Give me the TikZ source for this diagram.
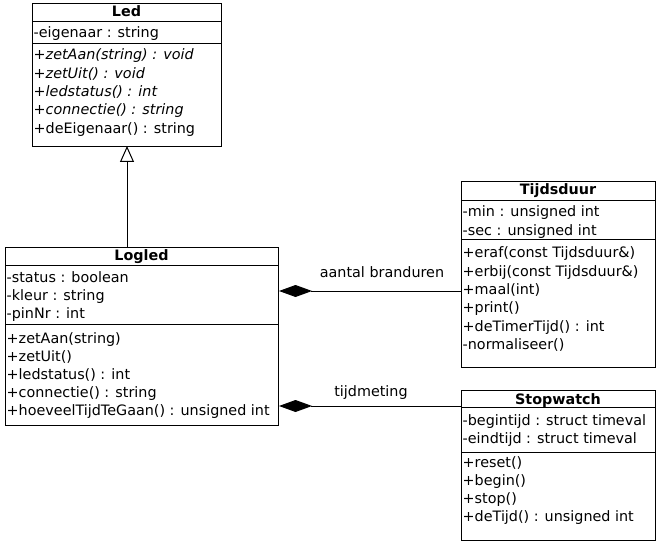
\documentclass[tikz,border=0pt]{standalone}
\usepackage{fontspec}
\setmainfont{DejaVu Sans}
\usetikzlibrary{arrows.meta}
\begin{document}
\begin{tikzpicture}[x=1bp,y=-1bp,
  box/.style={draw,line width=1bp,inner sep=0pt,anchor=north west},
  sep/.style={line width=1bp},
  txt/.style={anchor=base west,inner sep=0pt,font=\fontsize{14.35bp}{18bp}\selectfont},
  ttl/.style={anchor=base,inner sep=0pt,font=\fontsize{14.35bp}{18bp}\selectfont\bfseries},
  lbl/.style={anchor=base,inner sep=0pt,font=\fontsize{14.35bp}{18bp}\selectfont},
  conn/.style={line width=1bp},
  inh/.style={conn,-{Triangle[open,length=16bp,width=14bp,line width=1bp]}},
  comp/.style={conn,-{Diamond[fill=black,length=33bp,width=12bp,line width=1bp]}}]
\useasboundingbox (0,0) rectangle (663,545);
% ---------- Led ----------
\node[box,minimum width=189bp,minimum height=143bp] (led) at (32,3) {};
\draw[sep] (32,22) -- (221,22);
\draw[sep] (32,44) -- (221,44);
\node[ttl] (ledt) at (126.5,17) {Led};
\node[txt] (leda1) at (33.5,38) {-eigenaar : string};
\foreach \t [count=\i] in {\textit{+zetAan(string) : void},\textit{+zetUit() : void},\textit{+ledstatus() : int},\textit{+connectie() : string},+deEigenaar() : string}
  \node[txt] (ledm\i) at (33.5,{60+18.3*(\i-1)}) {\t};
% ---------- Logled ----------
\node[box,minimum width=273bp,minimum height=178bp] (logled) at (5,247) {};
\draw[sep] (5,265) -- (278,265);
\draw[sep] (5,324) -- (278,324);
\node[ttl] (logledt) at (141.5,261) {Logled};
\foreach \t [count=\i] in {-status : boolean,-kleur : string,-pinNr : int}
  \node[txt] (loga\i) at (6.5,{282+18.2*(\i-1)}) {\t};
\foreach \t [count=\i] in {+zetAan(string),+zetUit(),+ledstatus() : int,+connectie() : string,+hoeveelTijdTeGaan() : unsigned int}
  \node[txt] (logm\i) at (6.5,{343+18.2*(\i-1)}) {\t};
% ---------- Tijdsduur ----------
\node[box,minimum width=194bp,minimum height=186bp] (tijd) at (461,181) {};
\draw[sep] (461,201) -- (655,201);
\draw[sep] (461,240) -- (655,240);
\node[ttl] (tijdt) at (558,195) {Tijdsduur};
\foreach \t [count=\i] in {-min : unsigned int,-sec : unsigned int}
  \node[txt] (tija\i) at (462.5,{217+18.3*(\i-1)}) {\t};
\foreach \t [count=\i] in {+eraf(const Tijdsduur\&),+erbij(const Tijdsduur\&),+maal(int),+print(),+deTimerTijd() : int,-normaliseer()}
  \node[txt] (tijm\i) at (462.5,{258+18.3*(\i-1)}) {\t};
% ---------- Stopwatch ----------
\node[box,minimum width=194bp,minimum height=150bp] (stop) at (461,390) {};
\draw[sep] (461,407) -- (655,407);
\draw[sep] (461,452) -- (655,452);
\node[ttl] (stopt) at (558,404) {Stopwatch};
\foreach \t [count=\i] in {-begintijd : struct timeval,-eindtijd : struct timeval}
  \node[txt] (stoa\i) at (462.5,{425+18.3*(\i-1)}) {\t};
\foreach \t [count=\i] in {+reset(),+begin(),+stop(),+deTijd() : unsigned int}
  \node[txt] (stom\i) at (462.5,{467+18.3*(\i-1)}) {\t};
% ---------- connectors ----------
\coordinate (ih) at (127,146);
\draw[inh] (logled.north -| ih) -- (ih);
\coordinate (c1) at (461,291);
\draw[comp] (c1) -- (logled.east |- c1);
\coordinate (c2) at (461,406);
\draw[comp] (c2) -- (logled.east |- c2);
\node[lbl] (l1) at (382,277) {aantal branduren};
\node[lbl] (l2) at (371,396) {tijdmeting};
\end{tikzpicture}
\end{document}
